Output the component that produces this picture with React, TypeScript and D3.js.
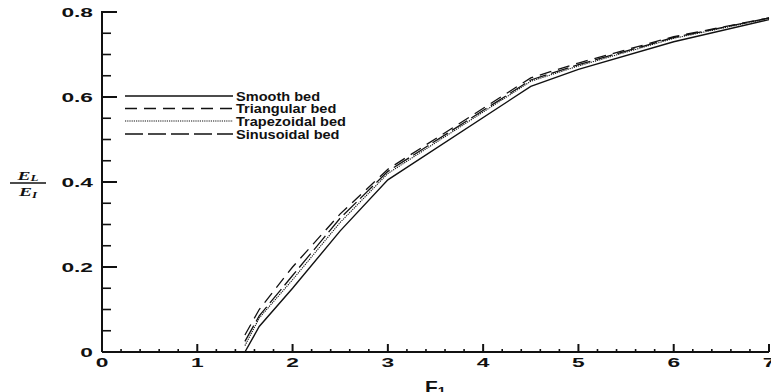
import React, { useRef, useEffect } from 'react';
import * as d3 from 'd3';

// Froude number F1
const froude = [1.5, 1.65, 2, 2.5, 3, 4.5, 5, 6, 7];

// energy loss ratio EL/EI for each bed type
const smoothBed = [0, 0.06, 0.15, 0.285, 0.405, 0.625, 0.665, 0.73, 0.782];
const triangularBed = [0.04, 0.1, 0.2, 0.325, 0.43, 0.645, 0.68, 0.742, 0.786];
const trapezoidalBed = [0.015, 0.08, 0.17, 0.305, 0.42, 0.637, 0.673, 0.738, 0.785];
const sinusoidalBed = [0.025, 0.085, 0.18, 0.315, 0.425, 0.64, 0.676, 0.74, 0.786];

const legendLabels = ['Smooth bed', 'Triangular bed', 'Trapezoidal bed', 'Sinusoidal bed'];
const xTicks = [0, 1, 2, 3, 4, 5, 6, 7];
const yTicks = [0, 0.2, 0.4, 0.6, 0.8];

const App: React.FC = () => {
  const svgRef = useRef<SVGSVGElement>(null);

  useEffect(() => {
    if (!svgRef.current) return;
    const svg = d3.select(svgRef.current);
    svg.selectAll('*').remove();

    const width = 771;
    const height = 392;
    const margin = { top: 12, left: 102, right: 2, bottom: 40 };

    const x = d3.scaleLinear().domain([0, 7]).range([margin.left, width - margin.right]);
    const y = d3.scaleLinear().domain([0, 0.8]).range([height - margin.bottom, margin.top]);

    const tickFont = 'Liberation Sans, Arial, sans-serif';

    // axes lines
    svg.append('line')
      .attr('x1', x(0)).attr('x2', x(7))
      .attr('y1', y(0)).attr('y2', y(0))
      .attr('stroke', '#111').attr('stroke-width', 2);
    svg.append('line')
      .attr('x1', x(0)).attr('x2', x(0))
      .attr('y1', y(0)).attr('y2', y(0.8) - 1)
      .attr('stroke', '#111').attr('stroke-width', 2);

    // y ticks
    d3.range(0, 0.8001, 0.05).forEach(v => {
      const major = Math.abs(v / 0.2 - Math.round(v / 0.2)) < 1e-6;
      svg.append('line')
        .attr('x1', x(0)).attr('x2', x(0) + (major ? 15 : 9))
        .attr('y1', y(v)).attr('y2', y(v))
        .attr('stroke', '#111').attr('stroke-width', major ? 2 : 1.6);
    });

    // x ticks
    d3.range(0, 7.0001, 0.2).forEach(v => {
      const major = Math.abs(v - Math.round(v)) < 1e-6;
      svg.append('line')
        .attr('x1', x(v)).attr('x2', x(v))
        .attr('y1', y(0)).attr('y2', y(0) - (major ? 8 : 3))
        .attr('stroke', '#111').attr('stroke-width', major ? 2 : 1.6);
    });

    // tick labels (wide bold face)
    yTicks.forEach(v => {
      svg.append('text')
        .attr('transform', `translate(${x(0) - 9},${y(v) + 4.8}) scale(1.75,1)`)
        .attr('text-anchor', 'end')
        .attr('font-family', tickFont)
        .attr('font-weight', 'bold')
        .attr('font-size', 13)
        .attr('fill', '#111')
        .text(v === 0 ? '0' : d3.format('.1f')(v));
    });
    xTicks.forEach(v => {
      svg.append('text')
        .attr('transform', `translate(${x(v)},${y(0) + 15}) scale(1.75,1)`)
        .attr('text-anchor', 'middle')
        .attr('font-family', tickFont)
        .attr('font-weight', 'bold')
        .attr('font-size', 13)
        .attr('fill', '#111')
        .text(String(v));
    });

    // x label F1
    const xl = svg.append('text')
      .attr('transform', `translate(425,393) scale(1.3,1)`)
      .attr('font-family', tickFont)
      .attr('font-weight', 'bold')
      .attr('font-size', 16)
      .attr('fill', '#111');
    xl.append('tspan').text('F');
    xl.append('tspan').attr('font-size', 11).attr('dy', 2).text('1');

    // y label EL / EI
    const yl = svg.append('g').attr('transform', 'translate(28,0)');
    const num = yl.append('text')
      .attr('transform', 'translate(0,179.5) scale(1.45,1)')
      .attr('text-anchor', 'middle')
      .attr('font-family', 'Liberation Serif, Times New Roman, serif')
      .attr('font-style', 'italic').attr('font-weight', 'bold')
      .attr('font-size', 13.5).attr('fill', '#111');
    num.append('tspan').text('E');
    num.append('tspan').attr('font-size', 9).attr('dy', 1.5).text('L');
    yl.append('line')
      .attr('x1', -18).attr('x2', 18).attr('y1', 183).attr('y2', 183)
      .attr('stroke', '#111').attr('stroke-width', 1.4);
    const den = yl.append('text')
      .attr('transform', 'translate(0,196) scale(1.45,1)')
      .attr('text-anchor', 'middle')
      .attr('font-family', 'Liberation Serif, Times New Roman, serif')
      .attr('font-style', 'italic').attr('font-weight', 'bold')
      .attr('font-size', 13.5).attr('fill', '#111');
    den.append('tspan').text('E');
    den.append('tspan').attr('font-size', 9).attr('dy', 1.5).text('I');

    // series
    const series = [
      { values: smoothBed, dash: null, width: 1.4 },
      { values: triangularBed, dash: '12,7', width: 1.3 },
      { values: trapezoidalBed, dash: '1.2,1', width: 1.1 },
      { values: sinusoidalBed, dash: '18,5', width: 1.3 }
    ];

    const line = d3.line<number>()
      .x((_, i) => x(froude[i]))
      .y(d => y(d));

    series.forEach(s => {
      svg.append('path')
        .datum(s.values)
        .attr('fill', 'none')
        .attr('stroke', '#111')
        .attr('stroke-width', s.width)
        .attr('stroke-dasharray', s.dash)
        .attr('d', line);
    });

    // legend
    const legendY = [96, 108.5, 121, 134];
    series.forEach((s, i) => {
      svg.append('line')
        .attr('x1', 125).attr('x2', 233)
        .attr('y1', legendY[i]).attr('y2', legendY[i])
        .attr('stroke', '#111')
        .attr('stroke-width', s.width)
        .attr('stroke-dasharray', s.dash);
      svg.append('text')
        .attr('transform', `translate(236,${legendY[i] + 4.5}) scale(1.12,1)`)
        .attr('font-family', tickFont)
        .attr('font-weight', 'bold')
        .attr('font-size', 13)
        .attr('fill', '#111')
        .text(legendLabels[i]);
    });
  }, []);

  return (
    <div style={{ position: 'absolute', left: 0, top: 0, width: 771, height: 392, background: '#fff' }}>
      <svg ref={svgRef} width={771} height={392}></svg>
    </div>
  );
};

export default App;
